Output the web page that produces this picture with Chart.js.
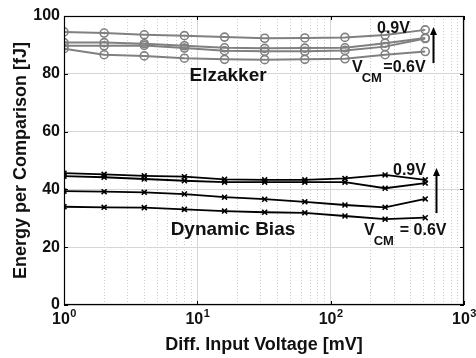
<!DOCTYPE html>
<html>
<head>
<meta charset="utf-8">
<script src="https://cdn.jsdelivr.net/npm/chart.js@4.4.1/dist/chart.umd.min.js"></script>
<style>
  html, body { margin: 0; padding: 0; background: #fff; }
  canvas { display: block; }
</style>
</head>
<body>
<canvas id="myChart" width="476" height="358"></canvas>
<script>
// diff. input voltage [mV]
var inputVoltage = [1, 2, 4, 8, 16, 32, 64, 128, 256, 512];

// Elzakker comparator, energy per comparison [fJ], VCM 0.9V .. 0.6V
var elzakker09 = [94.5, 94.1, 93.5, 93.2, 92.7, 92.3, 92.4, 92.6, 93.4, 95.2];
var elzakker08 = [90.8, 90.8, 90.4, 89.7, 89.0, 88.8, 88.9, 89.0, 90.6, 92.4];
var elzakker07 = [89.7, 89.7, 89.8, 88.9, 88.0, 87.8, 87.8, 88.1, 89.4, 92.2];
var elzakker06 = [88.7, 86.6, 86.2, 85.4, 85.0, 84.9, 85.0, 85.2, 86.6, 87.7];

// dynamic bias comparator
var dynBias09 = [45.6, 45.2, 44.7, 44.4, 43.5, 43.3, 43.3, 43.8, 45.0, 43.3];
var dynBias08 = [44.6, 44.2, 43.6, 43.0, 42.5, 42.5, 42.5, 42.5, 40.4, 42.2];
var dynBias07 = [39.4, 39.2, 39.0, 38.4, 37.3, 36.6, 35.7, 34.6, 33.8, 36.7];
var dynBias06 = [34.0, 33.8, 33.7, 33.1, 32.5, 32.1, 31.9, 30.8, 29.7, 30.2];

// axis ticks
var xDecades = [1, 10, 100, 1000];
var xExponents = ["0", "1", "2", "3"];
var yStep = 20;

var fontFam = "'Liberation Sans', Arial, Helvetica, sans-serif";
var textCol = "#111";
var grey = "#808080";

function pts(vals) {
  return inputVoltage.map(function(x, i) { return {x: x, y: vals[i]}; });
}

function elzSet(vals) {
  return {
    data: pts(vals),
    borderColor: grey,
    borderWidth: 2,
    pointStyle: "circle",
    pointRadius: 4,
    pointBorderWidth: 1.6,
    pointBorderColor: grey,
    pointBackgroundColor: "rgba(255,255,255,0)"
  };
}

function dynSet(vals) {
  return {
    data: pts(vals),
    borderColor: "#000",
    borderWidth: 1.8,
    pointStyle: "crossRot",
    pointRadius: 3.5,
    pointBorderWidth: 1.6,
    pointBorderColor: "#000",
    pointBackgroundColor: "#000"
  };
}

// frame, inner ticks, x tick labels with exponents, annotations
var decorations = {
  id: "decorations",
  afterDraw: function(chart) {
    var ctx = chart.ctx, a = chart.chartArea;
    var xs = chart.scales.x, ys = chart.scales.y;
    ctx.save();

    ctx.strokeStyle = "#000";
    ctx.lineWidth = 1.2;
    ctx.strokeRect(a.left + 0.5, a.top + 0.5, a.right - a.left - 1, a.bottom - a.top - 1);

    // inner tick marks
    ctx.lineWidth = 1;
    ctx.beginPath();
    for (var v = 0; v <= 100; v += yStep) {
      var py = Math.round(ys.getPixelForValue(v)) + 0.5;
      ctx.moveTo(a.left, py); ctx.lineTo(a.left + 4, py);
      ctx.moveTo(a.right, py); ctx.lineTo(a.right - 4, py);
    }
    xDecades.forEach(function(d) {
      var px = Math.round(xs.getPixelForValue(d)) + 0.5;
      ctx.moveTo(px, a.bottom); ctx.lineTo(px, a.bottom - 4);
      ctx.moveTo(px, a.top); ctx.lineTo(px, a.top + 4);
    });
    ctx.stroke();

    // x tick labels 10^n
    ctx.fillStyle = textCol;
    ctx.textBaseline = "alphabetic";
    ctx.textAlign = "left";
    xDecades.forEach(function(d, i) {
      var px = xs.getPixelForValue(d);
      ctx.font = "bold 16px " + fontFam;
      var w1 = ctx.measureText("10").width;
      ctx.font = "bold 11px " + fontFam;
      var w2 = ctx.measureText(xExponents[i]).width;
      var x0 = px - (w1 + w2) / 2;
      ctx.font = "bold 16px " + fontFam;
      ctx.fillText("10", x0, a.bottom + 18.5);
      ctx.font = "bold 11px " + fontFam;
      ctx.fillText(xExponents[i], x0 + w1 + 0.5, a.bottom + 11.5);
    });

    function X(v) { return xs.getPixelForValue(v); }
    function Y(v) { return ys.getPixelForValue(v); }
    function txt(s, x, y, size, align) {
      ctx.font = "bold " + size + "px " + fontFam;
      ctx.textAlign = align || "left";
      ctx.textBaseline = "middle";
      ctx.fillText(s, x, y);
      ctx.textAlign = "left";
      return ctx.measureText(s).width;
    }
    function vcm(x, y, rest) {
      var w = txt("V", x, y, 16);
      var w2 = txt("CM", x + w - 1, y + 10.5, 13);
      txt(rest, x + w + w2 + 0.5, y, 16);
    }
    function arrow(x, y0, y1) {
      ctx.strokeStyle = "#000";
      ctx.fillStyle = "#000";
      ctx.lineWidth = 2;
      ctx.beginPath();
      ctx.moveTo(x, y0); ctx.lineTo(x, y1 + 6);
      ctx.stroke();
      ctx.beginPath();
      ctx.moveTo(x, y1); ctx.lineTo(x - 3.5, y1 + 8); ctx.lineTo(x + 3.5, y1 + 8);
      ctx.closePath();
      ctx.fill();
      ctx.fillStyle = textCol;
    }

    txt("Elzakker", X(17), Y(79.2), 19, "center");
    txt("Dynamic Bias", X(18.5), Y(26.1), 19, "center");

    txt("0.9V", X(222.6), Y(95.7), 16);
    vcm(X(144.5), Y(82.2), "=0.6V");
    arrow(Math.round(X(585.6)) + 0.5, Y(83.7), Y(96.2));

    txt("0.9V", X(293.4), Y(46.5), 16);
    vcm(X(177.8), Y(25.8), " = 0.6V");
    arrow(Math.round(X(616.6)) + 0.5, Y(31.8), Y(47.4));

    ctx.restore();
  }
};

var myChart = document.getElementById("myChart").getContext("2d");

var chart = new Chart(myChart, {
  type: "line",
  data: {
    datasets: [
      elzSet(elzakker06), elzSet(elzakker07), elzSet(elzakker08), elzSet(elzakker09),
      dynSet(dynBias06), dynSet(dynBias07), dynSet(dynBias08), dynSet(dynBias09)
    ]
  },
  options: {
    responsive: false,
    animation: false,
    devicePixelRatio: 1,
    layout: { padding: { top: 16, right: 12, left: 0, bottom: 0 } },
    elements: { line: { tension: 0 } },
    plugins: { legend: { display: false }, tooltip: { enabled: false } },
    scales: {
      x: {
        type: "logarithmic",
        position: "bottom",
        min: 1,
        max: 1000,
        afterBuildTicks: function(scale) {
          var t = [];
          for (var e = 0; e < 3; e++) {
            for (var m = 1; m < 10; m++) {
              t.push({ value: m * Math.pow(10, e), major: m === 1 });
            }
          }
          t.push({ value: 1000, major: true });
          scale.ticks = t;
        },
        afterFit: function(scale) { scale.height = 53; },
        ticks: { display: false, autoSkip: false },
        grid: {
          drawTicks: false,
          lineWidth: 1,
          color: function(c) { return c.tick && c.tick.major ? "#d6d6d6" : "#cfcfcf"; }
        },
        border: {
          display: false,
          dash: function(c) { return c.tick && !c.tick.major ? [1, 2] : []; }
        },
        title: {
          display: true,
          text: "Diff. Input Voltage [mV]",
          color: textCol,
          font: { family: fontFam, size: 18, weight: "bold" },
          padding: { top: 0, bottom: 2 }
        }
      },
      y: {
        type: "linear",
        min: 0,
        max: 100,
        afterFit: function(scale) { scale.width = 64; },
        ticks: {
          stepSize: yStep,
          padding: 4,
          color: textCol,
          font: { family: fontFam, size: 16, weight: "bold" }
        },
        grid: { drawTicks: false, lineWidth: 1, color: "#d6d6d6" },
        border: { display: false, dash: [] },
        title: {
          display: true,
          text: "Energy per Comparison [fJ]",
          color: textCol,
          font: { family: fontFam, size: 18, weight: "bold" },
          padding: { top: 10, bottom: 0 }
        }
      }
    }
  },
  plugins: [decorations]
});
</script>
</body>
</html>
